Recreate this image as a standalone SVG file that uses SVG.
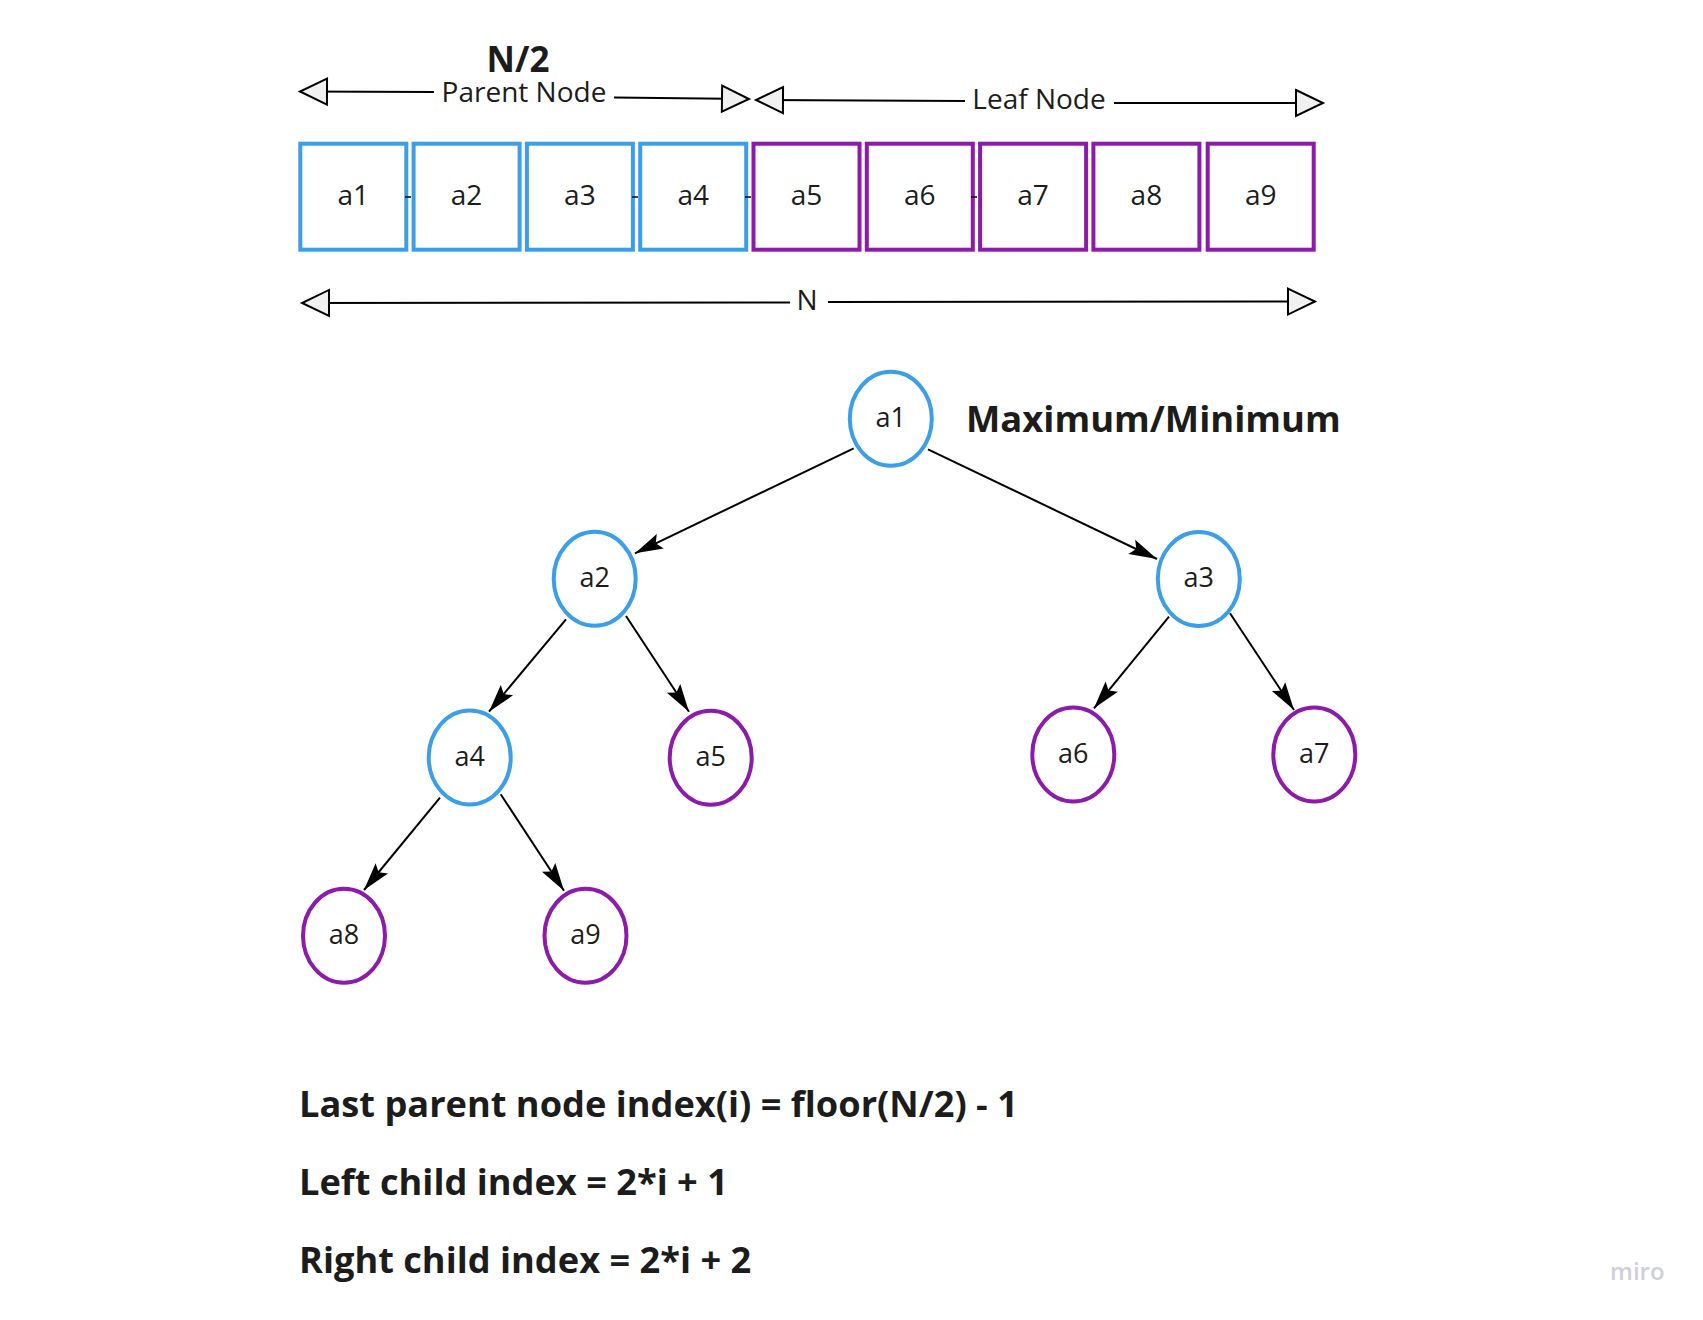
<svg xmlns="http://www.w3.org/2000/svg" width="1703" height="1320" viewBox="0 0 1703 1320">
<style>
  text { font-family: "Open Sans", "Liberation Sans", sans-serif; fill: #1c1c1c; }
  .lbl { font-size: 28px; text-anchor: middle; }
  .nlbl { font-size: 27px; text-anchor: middle; }
  .bold { font-weight: 700; }
  .formula { font-size: 36.2px; font-weight: 700; }
  .blue { fill: #ffffff; stroke: #3b9ee9; stroke-width: 4; }
  .purple { fill: #ffffff; stroke: #8c1bab; stroke-width: 4; }
  .dim { fill: none; stroke: #000; stroke-width: 2; marker-end: url(#open); }
  .edge { fill: none; stroke: #000; stroke-width: 2; marker-end: url(#head); }
  .stub { stroke: #000; stroke-width: 1.5; }
</style>
<defs>
  <marker id="open" markerUnits="userSpaceOnUse" viewBox="-32 -16 36 32" markerWidth="36" markerHeight="32" refX="0" refY="0" orient="auto" overflow="visible">
    <path d="M-27,-13 L0,0 L-27,13 Z" fill="#f0f0f0" stroke="#000" stroke-width="2"/>
  </marker>
  <marker id="head" markerUnits="userSpaceOnUse" viewBox="-30 -10 32 20" markerWidth="32" markerHeight="20" refX="0" refY="0" orient="auto" overflow="visible">
    <path d="M0,0 L-28,-8 L-23,0 L-28,8 Z" fill="#000"/>
  </marker>
</defs>
<rect x="0" y="0" width="1703" height="1320" fill="#ffffff"/>

<!-- labels above array -->
<text x="518" y="72" class="bold" style="font-size:35px" text-anchor="middle">N/2</text>
<text x="524" y="102" class="lbl">Parent Node</text>
<text x="1039" y="109" class="lbl">Leaf Node</text>
<text x="807" y="310" class="lbl">N</text>
<text x="966" y="432" class="bold" style="font-size:36.4px">Maximum/Minimum</text>

<!-- array boxes -->
<g id="box-a1"><rect x="300.3" y="143.7" width="106" height="106" class="blue"/><text x="353.3" y="205" class="lbl">a1</text></g>
<g id="box-a2"><rect x="413.6" y="143.7" width="106" height="106" class="blue"/><text x="466.6" y="205" class="lbl">a2</text></g>
<g id="box-a3"><rect x="526.9" y="143.7" width="106" height="106" class="blue"/><text x="579.9" y="205" class="lbl">a3</text></g>
<g id="box-a4"><rect x="640.2" y="143.7" width="106" height="106" class="blue"/><text x="693.2" y="205" class="lbl">a4</text></g>
<g id="box-a5"><rect x="753.5" y="143.7" width="106" height="106" class="purple"/><text x="806.5" y="205" class="lbl">a5</text></g>
<g id="box-a6"><rect x="866.8" y="143.7" width="106" height="106" class="purple"/><text x="919.8" y="205" class="lbl">a6</text></g>
<g id="box-a7"><rect x="980.1" y="143.7" width="106" height="106" class="purple"/><text x="1033.1" y="205" class="lbl">a7</text></g>
<g id="box-a8"><rect x="1093.4" y="143.7" width="106" height="106" class="purple"/><text x="1146.4" y="205" class="lbl">a8</text></g>
<g id="box-a9"><rect x="1207.7" y="143.7" width="106" height="106" class="purple"/><text x="1260.7" y="205" class="lbl">a9</text></g>

<!-- tree nodes -->
<g id="node-a1"><ellipse cx="890.8" cy="418.8" rx="41" ry="47" class="blue"/><text x="890.8" y="427" class="nlbl">a1</text></g>
<g id="node-a2"><ellipse cx="594.7" cy="578.8" rx="41" ry="47" class="blue"/><text x="594.7" y="587" class="nlbl">a2</text></g>
<g id="node-a3"><ellipse cx="1198.8" cy="579" rx="41" ry="47" class="blue"/><text x="1198.8" y="587" class="nlbl">a3</text></g>
<g id="node-a4"><ellipse cx="469.7" cy="757.5" rx="41" ry="47" class="blue"/><text x="469.7" y="766" class="nlbl">a4</text></g>
<g id="node-a5"><ellipse cx="710.7" cy="757.8" rx="41" ry="47" class="purple"/><text x="710.7" y="766" class="nlbl">a5</text></g>
<g id="node-a6"><ellipse cx="1073.3" cy="754.5" rx="41" ry="47" class="purple"/><text x="1073.3" y="763" class="nlbl">a6</text></g>
<g id="node-a7"><ellipse cx="1314.3" cy="754.5" rx="41" ry="47" class="purple"/><text x="1314.3" y="763" class="nlbl">a7</text></g>
<g id="node-a8"><ellipse cx="344" cy="935.8" rx="41" ry="47" class="purple"/><text x="344" y="944" class="nlbl">a8</text></g>
<g id="node-a9"><ellipse cx="585.5" cy="935.8" rx="41" ry="47" class="purple"/><text x="585.5" y="944" class="nlbl">a9</text></g>

<!-- connectors -->
<g id="connectors">
  <line x1="434" y1="92" x2="300" y2="91.5" class="dim"/>
  <line x1="614" y1="97.5" x2="749" y2="99" class="dim"/>
  <line x1="965" y1="101" x2="756" y2="100" class="dim"/>
  <line x1="1114" y1="103" x2="1323" y2="103" class="dim"/>
  <line x1="790" y1="302.5" x2="302" y2="303" class="dim"/>
  <line x1="828" y1="302" x2="1315" y2="301.5" class="dim"/>

  <line x1="853.7" y1="448.3" x2="635" y2="553.3" class="edge"/>
  <line x1="928" y1="449.3" x2="1157" y2="559" class="edge"/>
  <line x1="566" y1="619.3" x2="489" y2="711.7" class="edge"/>
  <line x1="626" y1="616" x2="689" y2="711.7" class="edge"/>
  <line x1="440" y1="797.7" x2="364" y2="890" class="edge"/>
  <line x1="500.7" y1="794.3" x2="564" y2="890.7" class="edge"/>
  <line x1="1169" y1="616.7" x2="1094" y2="708.3" class="edge"/>
  <line x1="1230" y1="613.3" x2="1294" y2="710" class="edge"/>

  <line x1="405" y1="197" x2="411" y2="197" class="stub"/>
  <line x1="632" y1="197" x2="638" y2="197" class="stub"/>
  <line x1="745" y1="197" x2="751" y2="197" class="stub"/>
  <line x1="971" y1="197" x2="977" y2="197" class="stub"/>
</g>

<!-- formulas -->
<text x="299" y="1117" class="formula">Last parent node index(i) = floor(N/2) - 1</text>
<text x="299" y="1195" class="formula">Left child index = 2*i + 1</text>
<text x="299" y="1273" class="formula">Right child index = 2*i + 2</text>

<text x="1610" y="1280" style="font-size:24px;font-weight:600;fill:#cfcfdb">miro</text>
</svg>
